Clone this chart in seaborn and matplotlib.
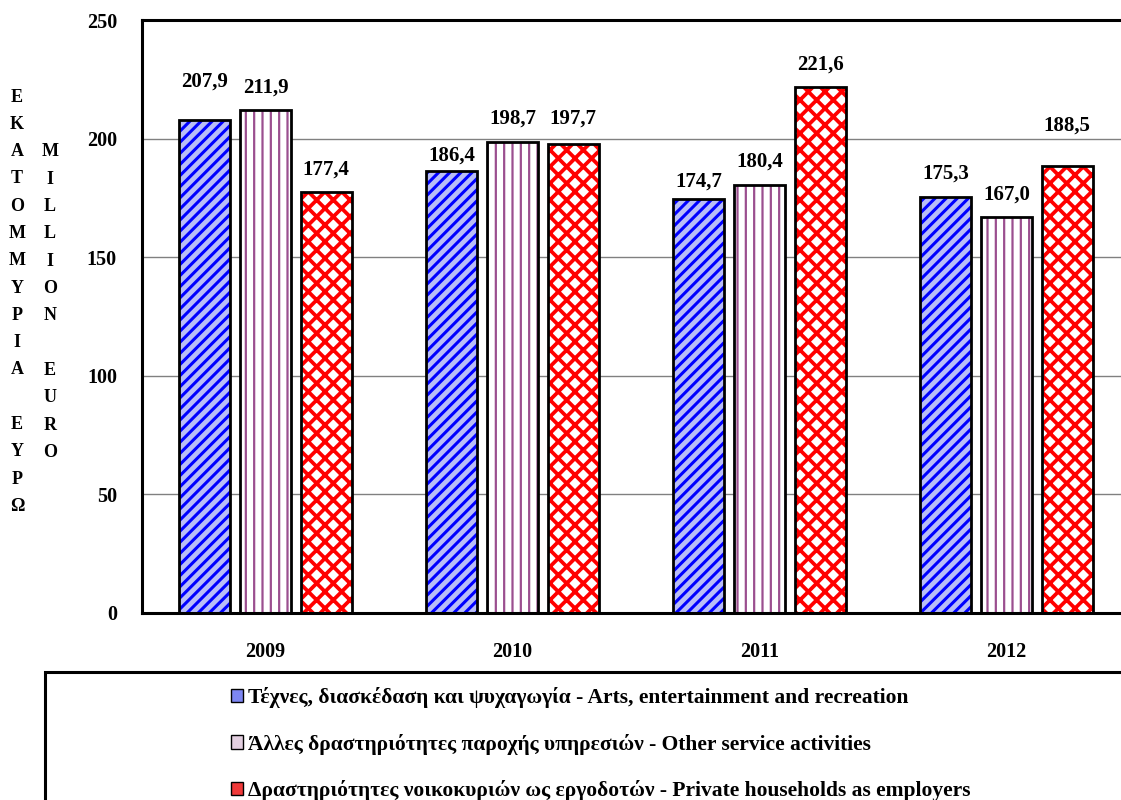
import numpy as np
import pandas as pd
import matplotlib
matplotlib.use("Agg")
import matplotlib.pyplot as plt
import seaborn as sns
from matplotlib.patches import Rectangle, Patch
from matplotlib.ticker import MultipleLocator

# =====================================
# Data
# =====================================

years = ["2009", "2010", "2011", "2012"]
arts = [207.9, 186.4, 174.7, 175.3]
other_services = [211.9, 198.7, 180.4, 167.0]
households = [177.4, 197.7, 221.6, 188.5]

series_names = [
    "Τέχνες, διασκέδαση και ψυχαγωγία - Arts, entertainment and recreation",
    "Άλλες δραστηριότητες παροχής υπηρεσιών - Other service activities",
    "Δραστηριότητες νοικοκυριών ως εργοδοτών - Private households as employers",
]

ylabel_gr = "ΕΚΑΤΟΜΜΥΡΙΑ ΕΥΡΩ"
ylabel_en = "MILLION EURO"

# label offsets above bar top (pixels), as placed in the original
label_offsets = [
    [38, 15, 17, 24],
    [23, 23, 23, 22],
    [23, 25, 23, 40],
]

# =====================================
# Style
# =====================================

sns.set_style("white")
plt.rcParams["font.family"] = ["Liberation Serif", "DejaVu Serif"]
plt.rcParams["font.weight"] = "bold"
plt.rcParams["text.color"] = "black"
plt.rcParams["xtick.color"] = "black"
plt.rcParams["ytick.color"] = "black"

face_colors = ["#b9bdf7", "#ffffff", "#ffffff"]
hatch_colors = ["#0000ff", "#9b4f8f", "#ff0000"]
hatches = ["///", "||", "xx"]
hatch_widths = [2.2, 1.6, 2.7]
handle_colors = ["#7d86f2", "#e3cfe0", "#f03a3a"]

W, H = 1121, 800

df = pd.DataFrame({
    "year": years * 3,
    "value": arts + other_services + households,
    "series": [s for s in series_names for _ in years],
})

# =====================================
# Plot
# =====================================

fig = plt.figure(figsize=(W / 100, H / 100), dpi=100)
ax = fig.add_axes([142 / W, 187 / H, 988 / W, 593 / H])

sns.barplot(
    data=df, x="year", y="value", hue="series",
    palette=face_colors, saturation=1,
    width=0.735, gap=0.157,
    edgecolor="black", linewidth=0,
    legend=False, ax=ax, zorder=2,
)

for i, cont in enumerate(ax.containers):
    for j, bar in enumerate(cont):
        # hatch layer in its own colour, then a black outline on top
        with plt.rc_context({"hatch.linewidth": hatch_widths[i]}):
            hp = Rectangle(
                bar.get_xy(), bar.get_width(), bar.get_height(),
                fill=False, hatch=hatches[i], edgecolor=hatch_colors[i],
                linewidth=0, zorder=2.5,
            )
        if hasattr(hp, "set_hatch_linewidth"):
            hp.set_hatch_linewidth(hatch_widths[i])
        ax.add_patch(hp)
        ax.add_patch(Rectangle(
            bar.get_xy(), bar.get_width(), bar.get_height(),
            fill=False, edgecolor="black", linewidth=2, zorder=3,
        ))
        val = bar.get_height()
        ax.annotate(
            f"{val:.1f}".replace(".", ","),
            (bar.get_x() + bar.get_width() / 2, val),
            xytext=(0, label_offsets[i][j]), textcoords="offset pixels",
            ha="center", va="center", fontsize=15, fontweight="bold",
        )

ax.set_xlim(-0.5, 3.5)
ax.set_ylim(0, 250)
ax.yaxis.set_major_locator(MultipleLocator(50))
ax.yaxis.set_minor_locator(MultipleLocator(25))
ax.yaxis.grid(True, which="major", color="#808080", linewidth=1)
ax.set_axisbelow(True)

ax.set_xticks(np.arange(-0.5, 4, 1))
ax.set_xticklabels([])
ax.set_xticks(range(len(years)), minor=True)
ax.set_xticklabels(years, minor=True, fontsize=14.5, fontweight="bold")
ax.tick_params(axis="x", which="major", direction="out", length=5, width=1.5)
ax.tick_params(axis="x", which="minor", length=0, pad=21)
ax.tick_params(axis="y", which="both", direction="out", length=5, width=1.5,
               labelsize=14.5, pad=13)
for lab in ax.get_yticklabels():
    lab.set_fontweight("bold")

ax.set_xlabel("")
ax.set_ylabel("")
for sp in ax.spines.values():
    sp.set_visible(True)
    sp.set_color("black")
    sp.set_linewidth(2.2)

# stacked y-axis label letters
step = 27.3
for k, ch in enumerate(ylabel_gr):
    fig.text(17 / W, 1 - (97 + k * step) / H, ch, ha="center", va="center",
             fontsize=13, fontweight="bold")
for k, ch in enumerate(ylabel_en):
    fig.text(50 / W, 1 - (152 + k * step) / H, ch, ha="center", va="center",
             fontsize=13, fontweight="bold")

# =====================================
# Legend
# =====================================

fig.add_artist(Rectangle(
    (45 / W, -0.2), 1.0, (H - 672) / H + 0.2,
    transform=fig.transFigure, fill=False, edgecolor="black", linewidth=2.2,
))

handles = [Patch(facecolor=c, edgecolor="black", linewidth=1) for c in handle_colors]
fig.legend(
    handles, series_names,
    loc="upper left", bbox_to_anchor=(231 / W, 1 - 687 / H),
    frameon=False, prop={"size": 15.5, "weight": "bold"},
    handlelength=0.56, handleheight=0.56, handletextpad=0.25,
    labelspacing=1.19, borderaxespad=0, borderpad=0,
)

fig.savefig("out.png", dpi=100)
plt.close(fig)
